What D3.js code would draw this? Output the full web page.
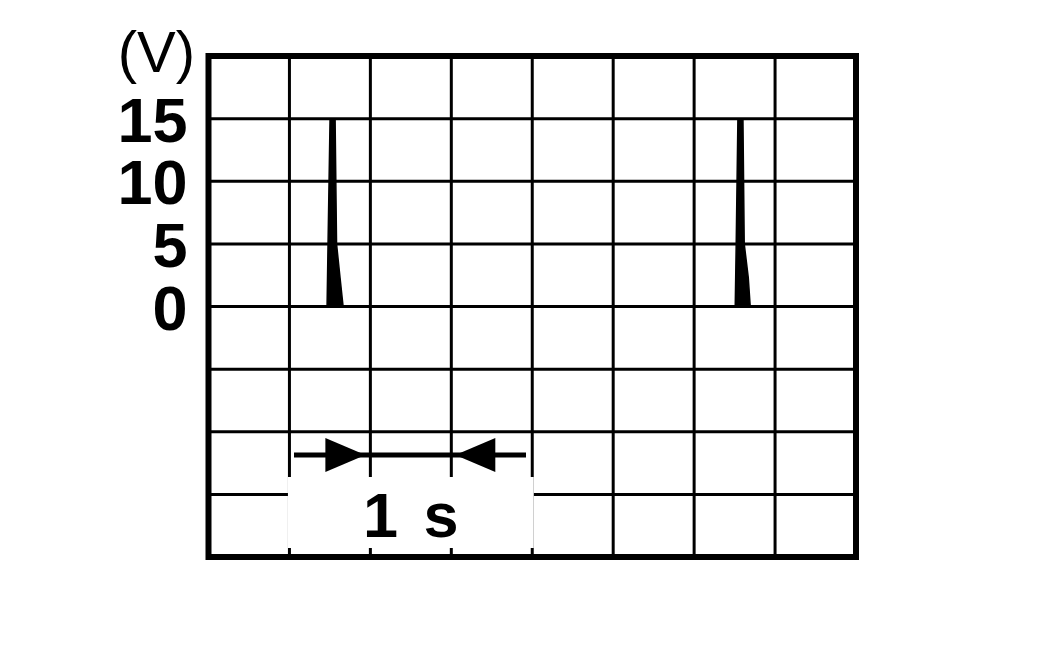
<!DOCTYPE html>
<html>
<head>
<meta charset="utf-8">
<script src="https://cdn.jsdelivr.net/npm/d3@7"></script>
<style>
  body { margin: 0; background: #fff; }
  svg { display: block; }
</style>
</head>
<body>
<div id="chart"></div>
<script>
// scope trace, time in grid divisions (1 s per div), voltage in V
const yTicks = [0, 5, 10, 15];
const yGrid = [-15, -10, -5, 0, 5, 10, 15];
const xGrid = [1, 2, 3, 4, 5, 6, 7];

// outline of each pulse: up the leading edge, down the trailing edge
const pulse1T = [1.465, 1.477, 1.502, 1.564, 1.582, 1.625, 1.663];
const pulse1V = [0, 5, 15, 15, 5, 2.3, 0];
const pulse2T = [6.508, 6.520, 6.541, 6.603, 6.619, 6.669, 6.693];
const pulse2V = [0, 5, 15, 15, 5, 2.3, 0];

const timeLabel = "1 s";
const timeSpan = [2, 3]; // arrow tips point at these gridlines
const unitLabel = "(V)";

const width = 1052;
const height = 650;
const plot = { left: 208.5, right: 856, top: 56, bottom: 557 };

const svg = d3.select("#chart").append("svg")
  .attr("width", width)
  .attr("height", height)
  .style("background", "white");

const x = d3.scaleLinear().domain([0, 8]).range([plot.left, plot.right]);
const y = d3.scaleLinear().domain([-20, 20]).range([plot.bottom, plot.top]);

// grid
svg.append("g")
  .selectAll("line.v")
  .data(xGrid)
  .join("line")
  .attr("x1", d => x(d)).attr("x2", d => x(d))
  .attr("y1", plot.top).attr("y2", plot.bottom)
  .attr("stroke", "#000").attr("stroke-width", 3);

svg.append("g")
  .selectAll("line.h")
  .data(yGrid)
  .join("line")
  .attr("x1", plot.left).attr("x2", plot.right)
  .attr("y1", d => y(d)).attr("y2", d => y(d))
  .attr("stroke", "#000").attr("stroke-width", 3);

// white label box over the grid, bottom ticks left showing
svg.append("rect")
  .attr("x", x(1) - 1.5)
  .attr("y", 477)
  .attr("width", x(4) - x(1) + 3)
  .attr("height", 548 - 477)
  .attr("fill", "white");

svg.append("rect")
  .attr("x", plot.left)
  .attr("y", plot.top)
  .attr("width", plot.right - plot.left)
  .attr("height", plot.bottom - plot.top)
  .attr("fill", "none")
  .attr("stroke", "#000")
  .attr("stroke-width", 6);

// y tick labels
const yAxis = svg.append("g")
  .attr("transform", `translate(${plot.left},0)`)
  .call(d3.axisLeft(y).tickValues(yTicks).tickSize(0).tickPadding(21));
yAxis.select(".domain").remove();
yAxis.selectAll("text")
  .attr("dy", "0.36em")
  .style("font-family", "'Liberation Sans', Arial, sans-serif")
  .style("font-size", "63px")
  .style("font-weight", "bold")
  .style("fill", "#000");

svg.append("text")
  .attr("x", 195)
  .attr("y", 72)
  .attr("text-anchor", "end")
  .style("font-family", "'Liberation Sans', Arial, sans-serif")
  .style("font-size", "58px")
  .style("fill", "#000")
  .text(unitLabel);

// pulses
const trace = d3.line()
  .x(d => x(d[0]))
  .y(d => y(d[1]));

[[pulse1T, pulse1V], [pulse2T, pulse2V]].forEach(([ts, vs]) => {
  svg.append("path")
    .datum(ts.map((t, i) => [t, vs[i]]))
    .attr("d", trace)
    .attr("fill", "#000")
    .attr("stroke", "#000")
    .attr("stroke-width", 1.5)
    .attr("stroke-linejoin", "round");
});

// time scale marker
const arrowY = 455;
const tipL = x(timeSpan[0]) - 5;
const tipR = x(timeSpan[1]) + 4;
svg.append("line")
  .attr("x1", 294).attr("x2", 526)
  .attr("y1", arrowY).attr("y2", arrowY)
  .attr("stroke", "#000").attr("stroke-width", 5);

svg.append("path")
  .attr("d", `M${tipL - 40},${arrowY - 17}L${tipL},${arrowY}L${tipL - 40},${arrowY + 17}Z`)
  .attr("fill", "#000");
svg.append("path")
  .attr("d", `M${tipR + 40},${arrowY - 17}L${tipR},${arrowY}L${tipR + 40},${arrowY + 17}Z`)
  .attr("fill", "#000");

svg.append("text")
  .attr("x", (x(1) + x(4)) / 2)
  .attr("y", 537)
  .attr("text-anchor", "middle")
  .style("font-family", "'Liberation Sans', Arial, sans-serif")
  .style("font-size", "63px")
  .style("font-weight", "bold")
  .style("word-spacing", "8px")
  .style("fill", "#000")
  .text(timeLabel);
</script>
</body>
</html>
